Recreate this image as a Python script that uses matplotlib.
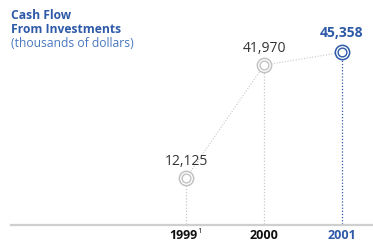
import matplotlib
matplotlib.use("Agg")
import matplotlib.pyplot as plt

years = ["1999", "2000", "2001"]
values = [12125, 41970, 45358]
labels = ["12,125", "41,970", "45,358"]

W, H = 373, 241
fig = plt.figure(figsize=(W/100, H/100), dpi=100)
left_px, right_px, base_px, top_px = 11, 373, 224, 0
ax = fig.add_axes([left_px/W, (H-base_px)/H, (right_px-left_px)/W, (base_px-top_px)/H])
ax.set_axis_off()

x = list(range(len(years)))
pitch = 78.0
x0_px = 186
ax.set_xlim(-(x0_px-left_px)/pitch, (right_px-x0_px)/pitch)
scale = 0.003786
ax.set_ylim(0, (base_px-top_px)/scale)

gray = "#c2c2c2"
blue = "#2e5aa8"
font = "Open Sans"

ax.axhline(-0.5/scale, color="#cfcfcf", lw=1.6, clip_on=False)

ax.plot(x, values, ls=(0, (1, 1.5)), color="#c8c8c8", lw=0.8, zorder=1)
offs = [6.5, 6.5, 8.5]
for i, v in enumerate(values):
    c = blue if i == len(values)-1 else gray
    ax.plot([x[i], x[i]], [0, v], ls=(0, (1, 1.5)), color=c if i == 2 else "#c8c8c8", lw=0.9, zorder=1)
    ax.plot(x[i], v, 'o', ms=10.3, mfc="white", mec=c, mew=1.1, zorder=3)
    ax.plot(x[i], v, 'o', ms=6.3, mfc="white", mec=c, mew=1.0, zorder=4)
    if i == len(values)-1:
        ax.annotate(labels[i], (x[i], v), xytext=(0, offs[i]), textcoords="offset points",
                    ha="center", va="bottom", color=blue, fontsize=10, fontweight="bold", family=font)
    else:
        ax.annotate(labels[i], (x[i], v), xytext=(0, offs[i]), textcoords="offset points",
                    ha="center", va="bottom", color="#333333", fontsize=10, family=font)

for i, yr in enumerate(years):
    c = blue if i == len(years)-1 else "#111111"
    dx = -3 if i == 0 else 0
    ax.annotate(yr, (x[i], 0), xytext=(dx*0.72, -3.6), textcoords="offset points",
                ha="center", va="top", color=c, fontsize=9, fontweight="bold", family=font)
ax.annotate("1", (x[0], 0), xytext=(11*0.72, -2.8), textcoords="offset points",
            ha="left", va="top", color="#111111", fontsize=5.5, family=font)

fig.text(11/W, 1-9/H, "Cash Flow\nFrom Investments", ha="left", va="top",
         color=blue, fontsize=8.7, fontweight="bold", family=font, linespacing=1.12)
fig.text(11/W, 1-37/H, "(thousands of dollars)", ha="left", va="top",
         color="#4a78c0", fontsize=8.7, family=font)

fig.savefig("out.png", dpi=100)
